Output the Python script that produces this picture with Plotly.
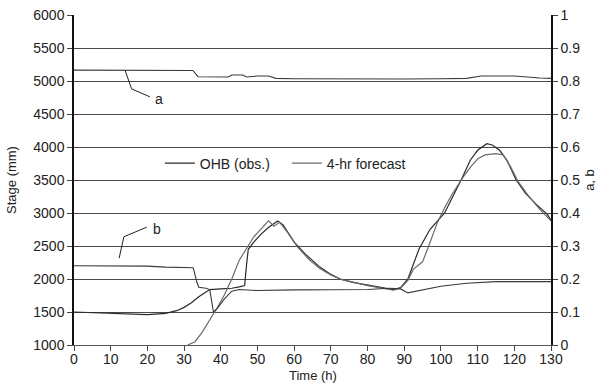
import plotly.graph_objects as go

# ---- data ----
t_obs = [0, 5, 10, 15, 20, 25, 28, 30, 32, 34, 36, 37, 40, 43, 45, 46.5, 47, 47.5, 49, 51, 53,
         55.5, 57, 60, 63, 67, 70, 72.5, 76, 80, 83, 87, 89, 91, 94, 97, 101, 103, 105.5, 108,
         110, 112.5, 114, 116, 118, 120.5, 123, 126, 129, 130]
obs = [1500, 1490, 1470, 1460, 1460, 1480, 1520, 1570, 1640, 1730, 1800, 1840, 1850, 1860, 1880,
       1900, 2200, 2450, 2560, 2680, 2780, 2880, 2820, 2560, 2380, 2180, 2070, 2000, 1950, 1910,
       1880, 1840, 1870, 2000, 2450, 2750, 3000, 3220, 3500, 3800, 3950, 4050, 4030, 3950, 3800,
       3500, 3300, 3130, 2980, 2890]

t_fc = [31, 33, 35, 37, 39, 41, 43, 45, 47, 49, 51, 53, 54.5, 56, 58, 61, 64, 67, 70, 73, 77, 80,
        84, 87, 89, 91, 92.5, 93.5, 95, 97, 99, 101, 103, 106, 108, 110, 112, 115, 117, 119, 121,
        124, 127, 130]
fc = [1000, 1050, 1200, 1370, 1560, 1760, 2000, 2280, 2460, 2640, 2760, 2880, 2800, 2860, 2720,
      2480, 2300, 2160, 2060, 1990, 1940, 1900, 1860, 1830, 1860, 1980, 2150, 2200, 2260, 2550,
      2850, 3080, 3280, 3540, 3690, 3820, 3880, 3900, 3880, 3700, 3480, 3250, 3050, 2880]

t_b = [0, 10, 20, 25, 30, 32.5, 33.5, 34, 36, 37, 38, 39, 41, 43, 45, 50, 60, 70, 80, 86, 89, 91,
       94, 100, 107, 115, 130]
b = [0.24, 0.24, 0.239, 0.236, 0.236, 0.234, 0.19, 0.175, 0.172, 0.168, 0.1, 0.11, 0.14, 0.163,
     0.168, 0.165, 0.167, 0.167, 0.168, 0.172, 0.17, 0.158, 0.165, 0.178, 0.187, 0.192, 0.192]

t_a = [0, 10, 20, 30, 32.4, 33.8, 38, 42, 43, 46, 47, 50, 53, 55, 60, 70, 80, 90, 100, 107, 111,
       115, 120, 127, 130]
a = [0.833, 0.833, 0.833, 0.833, 0.832, 0.813, 0.812, 0.812, 0.818, 0.818, 0.812, 0.815, 0.815,
     0.808, 0.807, 0.806, 0.806, 0.806, 0.807, 0.808, 0.815, 0.816, 0.815, 0.809, 0.808]

x_ticks = list(range(0, 131, 10))
y_ticks = list(range(1000, 6001, 500))
y2_ticks = [round(i * 0.1, 1) for i in range(11)]

FONT = "Liberation Sans, Arial, sans-serif"
INK = "#222222"

fig = go.Figure()
fig.add_trace(go.Scatter(x=t_obs, y=obs, mode="lines", name="OHB (obs.)",
                         line=dict(color="#2a2a2a", width=1.2)))
fig.add_trace(go.Scatter(x=t_fc, y=fc, mode="lines", name="4-hr forecast",
                         line=dict(color="#6a6a6a", width=1.2)))
fig.add_trace(go.Scatter(x=t_b, y=b, mode="lines", name="b", yaxis="y2", showlegend=False,
                         line=dict(color="#3a3a3a", width=1.1)))
fig.add_trace(go.Scatter(x=t_a, y=a, mode="lines", name="a", yaxis="y2", showlegend=False,
                         line=dict(color="#3a3a3a", width=1.1)))

# leader lines for a and b labels
fig.add_shape(type="path", xref="x", yref="y2", path="M 13.9 0.833 L 15.7 0.776 L 20.7 0.752",
              line=dict(color=INK, width=1))
fig.add_shape(type="path", xref="x", yref="y2", path="M 12.3 0.263 L 13.6 0.328 L 19.8 0.357",
              line=dict(color=INK, width=1))
fig.add_annotation(x=21.6, y=0.745, xref="x", yref="y2", text="a", showarrow=False,
                   xanchor="left", font=dict(size=14, color=INK, family=FONT))
fig.add_annotation(x=21.0, y=0.352, xref="x", yref="y2", text="b", showarrow=False,
                   xanchor="left", font=dict(size=14, color=INK, family=FONT))
# x-axis title
fig.add_annotation(x=0.5, y=-0.093, xref="paper", yref="paper", text="Time (h)",
                   showarrow=False, xanchor="center", yanchor="middle",
                   font=dict(size=13, color=INK, family=FONT))

fig.update_layout(
    width=600, height=385,
    margin=dict(l=74, r=49, t=15, b=40),
    paper_bgcolor="white", plot_bgcolor="white",
    font=dict(family=FONT, size=13, color=INK),
    showlegend=True,
    legend=dict(orientation="h", x=0.180, y=0.55, xanchor="left", yanchor="middle",
                bgcolor="rgba(0,0,0,0)", font=dict(size=14, color=INK, family=FONT),
                entrywidth=82, entrywidthmode="pixels", tracegroupgap=0),
    xaxis=dict(range=[0, 130], tickvals=x_ticks, ticks="outside", ticklen=5, tickcolor="#444",
               showline=True, linecolor="#555", linewidth=1.2, showgrid=False, zeroline=False,
               automargin=False, ticklabelstandoff=-4,
               tickfont=dict(size=14)),
    yaxis=dict(range=[1000, 6000], tickvals=y_ticks, ticks="outside", ticklen=5, tickcolor="#444",
               showline=True, linecolor="#111", linewidth=1.5, showgrid=True,
               gridcolor="#4a4a4a", gridwidth=1.3, zeroline=False, automargin=False,
               title=dict(text="Stage (mm)", standoff=14, font=dict(size=13)),
               tickfont=dict(size=14)),
    yaxis2=dict(range=[0, 1], tickvals=y2_ticks, overlaying="y", side="right", ticks="outside",
                ticklen=5, tickcolor="#444", showline=True, linecolor="#111", linewidth=1.5,
                showgrid=False, zeroline=False, automargin=False,
                title=dict(text="a, b", standoff=6, font=dict(size=13)),
                tickfont=dict(size=14)),
)

fig.write_html("out.html")
